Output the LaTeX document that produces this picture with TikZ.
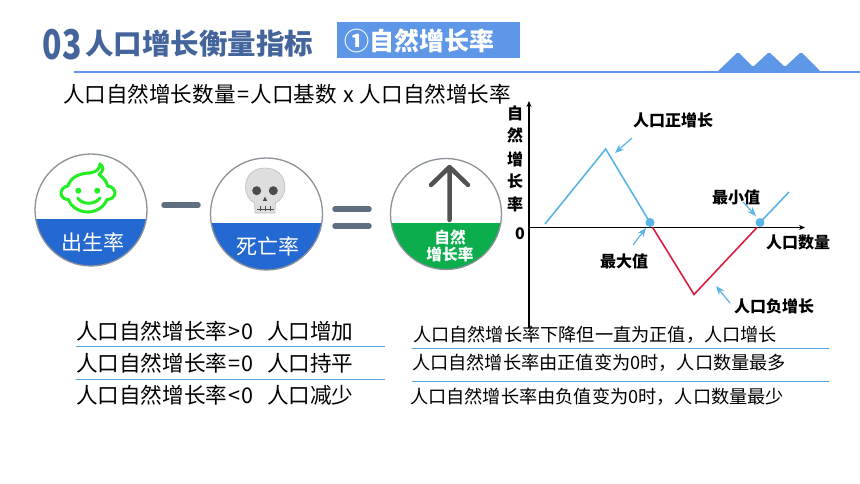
\documentclass[tikz,border=0pt]{standalone}
\usepackage{fontspec}
\setmainfont{Noto Sans CJK SC}
\newfontfamily\heavycjk{Noto Sans CJK SC Black}
\usetikzlibrary{arrows.meta}
\definecolor{ruleblue}{HTML}{5F97E8}
\definecolor{titleblue}{HTML}{44659C}
\definecolor{discblue}{HTML}{2468D2}
\definecolor{discgreen}{HTML}{0BAD4C}
\definecolor{ringgrey}{HTML}{8C9299}
\definecolor{opgrey}{HTML}{5F6F80}
\definecolor{babygreen}{HTML}{22EE22}
\definecolor{curveblue}{HTML}{5AB4E6}
\definecolor{curvered}{HTML}{DC1E40}
\definecolor{linkblue}{HTML}{5BA3DC}
\newcommand{\fs}[1]{\fontsize{#1}{#1}\selectfont}
\tikzset{
  x=1pt,y=-1pt,
  txt/.style={inner sep=0pt,outer sep=0pt,anchor=west,text=black},
  bigtxt/.style={txt,font=\fs{21.6}},
  smalltxt/.style={txt,font=\fs{18.2}},
  chartlbl/.style={inner sep=0pt,text=black,font=\bfseries\fs{16}},
  ring/.style={circle,draw=ringgrey,line width=1.3pt,minimum size=#1,inner sep=0pt},
  opbar/.style={opgrey,line width=5.5pt,line cap=round},
  hair/.style={linkblue,line width=1pt},
  curve/.style={line width=1.6pt,line join=miter},
  axis/.style={black,line width=1.2pt,-{Stealth[length=6pt,width=5pt]}},
  tick/.style={curveblue,line width=1.2pt,-{Stealth[length=9pt,width=7pt]}},
  dot/.style={circle,fill=curveblue,minimum size=9pt,inner sep=0pt},
  disclbl/.style={inner sep=0pt,text=white,align=center},
}
\begin{document}
\begin{tikzpicture}
\useasboundingbox (0,0) rectangle (860,484);
\fill[white] (0,0) rectangle (860,484);

% header
\fill[black!60] (59,25) circle[radius=0.4];
\draw[ruleblue,line width=2pt] (74,72) -- (860,72);
\fill[ruleblue,rounded corners=1.5pt] (716,73) -- (738,52) -- (753,67) -- (769,52) -- (785,67) -- (801,52) -- (822,73) -- cycle;
\node[inner sep=0pt,text=titleblue,font=\heavycjk\fs{41}] (num) at (62,44.5) {\scalebox{0.78}[1]{03}};
\node[txt,text=titleblue,font=\heavycjk\fs{28.5}] (title) at (85,44) {人口增长衡量指标};
\fill[ruleblue] (337,22) rectangle (520,58);
\node[txt,text=white,font=\bfseries\fs{25}] (badge) at (344,41) {①自然增长率};
\node[bigtxt] (formula) at (63,94) {人口自然增长数量\hspace{1.5pt}=\hspace{1.5pt}人口基数\hspace{6pt}x\hspace{6pt}人口自然增长率};

% disc 1
\begin{scope}
\clip (91,210) circle[radius=56];
\fill[discblue] (30,219) rectangle (150,270);
\end{scope}
\node[ring=112pt] (birth) at (91,210) {};
\node[disclbl,font=\fs{21}] (birthlbl) at (93,242) {出生率};
\begin{scope}[babygreen,line width=3pt,line cap=round,line join=round]
\draw (90,173) .. controls (95,172) and (100,170) .. (100,164)
  .. controls (104,167) and (104,171) .. (99,174.5)
  .. controls (104,178) and (107,182) .. (107.5,186)
  .. controls (112,186) and (115,190) .. (115,193)
  .. controls (115,197) and (111,199.5) .. (107,199.5)
  .. controls (104,207) and (96,212) .. (88,212)
  .. controls (79,212) and (71,207) .. (68.5,199.5)
  .. controls (64,199.5) and (61,197) .. (61,193)
  .. controls (61,190) and (64,186) .. (68,186)
  .. controls (70,178) and (79,173) .. (90,173) -- cycle;
\draw (77.7,198) .. controls (82,205) and (95,205) .. (100,198);
\fill (78.3,190.7) circle[radius=3];
\fill (97.3,190.7) circle[radius=3];
\end{scope}

\draw[opbar] (164,205) -- (198,205);

% disc 2
\begin{scope}
\clip (266.5,214) circle[radius=56];
\fill[discblue] (205,223) rectangle (330,275);
\end{scope}
\node[ring=112pt] (death) at (266.5,214) {};
\node[disclbl,font=\fs{21}] (deathlbl) at (268,246) {死亡率};
% skull
\fill[black!13,draw=black!25,line width=0.6pt] (255,213) -- (275,213) -- (275.5,203)
  .. controls (282,200) and (285,193) .. (285,187)
  .. controls (285,175) and (276,168) .. (265,168)
  .. controls (254,168) and (245.5,175) .. (245.5,187)
  .. controls (245.5,193) and (248,200) .. (254.5,203) -- cycle;
\fill[black!70] (256.7,190.7) circle[radius=4.5];
\fill[black!70] (273.3,190.7) circle[radius=4.5];
\fill[black!70] (265,196.5) -- (262.8,201) -- (267.2,201) -- cycle;
\draw[black!70,line width=0.9pt] (256.5,209) -- (274,209)
  (260,206.5) -- (260,211.5) (265,206.5) -- (265,211.5) (270,206.5) -- (270,211.5);

\draw[opbar] (335,209) -- (369,209);
\draw[opbar] (335,226) -- (369,226);

% disc 3
\begin{scope}
\clip (446,214) circle[radius=55.5];
\fill[discgreen] (385,223) rectangle (505,275);
\end{scope}
\node[ring=111pt] (growth) at (446,214) {};
\draw[black!68,line width=4.5pt,line cap=round,line join=round] (449.5,220) -- (449.5,167) (431,185) -- (449.5,167) -- (468,185);
\node[disclbl,font=\bfseries\fs{15.7},text=white] (growthlbl) at (450,246) {自然\\[2pt]增长率};

% chart
\coordinate (o) at (529,227.5);
\coordinate (ytop) at (529,101);
\coordinate (ybot) at (529,328);
\coordinate (xend) at (805,227.5);
\draw[axis] (ybot) -- (ytop);
\draw[axis] (o) -- (xend);
\node[chartlbl] (zero) at (520,234) {0};
\node[chartlbl] (y1) at (515,113) {自};
\node[chartlbl] (y2) at (515,135) {然};
\node[chartlbl] (y3) at (515,159) {增};
\node[chartlbl] (y4) at (515,181) {长};
\node[chartlbl] (y5) at (515,204) {率};
\node[chartlbl] (xlab) at (798,242) {人口数量};

\node[dot] (maxd) at (650,222.5) {};
\node[dot] (mind) at (760,222.5) {};
\coordinate (a0) at (545,224);
\coordinate (a1) at (605.7,149);
\coordinate (r0) at (652.7,227.5);
\coordinate (r1) at (694,294.5);
\coordinate (r2) at (757,227.5);
\coordinate (b1) at (789,192);
\draw[curve,curveblue] (a0) -- (a1) -- (maxd.center);
\draw[curve,curvered] (r0) -- (r1) -- (r2);
\draw[curve,curveblue] (mind.center) -- (b1);

\node[chartlbl] (pos) at (673,120) {人口正增长};
\node[chartlbl] (maxl) at (624,261) {最大值};
\node[chartlbl] (minl) at (736,197) {最小值};
\node[chartlbl] (neg) at (774,306) {人口负增长};
\coordinate (t1a) at (632,138); \coordinate (t1b) at (615,153);
\coordinate (t2a) at (633,245); \coordinate (t2b) at (646,228);
\coordinate (t3a) at (743,202); \coordinate (t3b) at (756,216);
\coordinate (t4a) at (730,303); \coordinate (t4b) at (716,286);
\draw[tick] (t1a) -- (t1b);
\draw[tick] (t2a) -- (t2b);
\draw[tick] (t3a) -- (t3b);
\draw[tick] (t4a) -- (t4b);

% lower text
\node[bigtxt] (l1) at (76,331) {人口自然增长率\hspace{1pt}>\hspace{1pt}0\hspace{14pt}人口增加};
\node[bigtxt] (l2) at (76,363) {人口自然增长率\hspace{1pt}=\hspace{1pt}0\hspace{14pt}人口持平};
\node[bigtxt] (l3) at (76,395) {人口自然增长率\hspace{1pt}<\hspace{1pt}0\hspace{14pt}人口减少};
\draw[hair] (76,346.5) -- (385,346.5);
\draw[hair] (76,379.5) -- (385,379.5);
\node[smalltxt] (r1t) at (413,335) {人口自然增长率下降但一直为正值，人口增长};
\node[smalltxt] (r2t) at (412,363) {人口自然增长率由正值变为0时，人口数量最多};
\node[smalltxt] (r3t) at (410,397) {人口自然增长率由负值变为0时，人口数量最少};
\draw[hair] (412,348.5) -- (829,348.5);
\draw[hair] (412,381.5) -- (829,381.5);
\end{tikzpicture}
\end{document}
